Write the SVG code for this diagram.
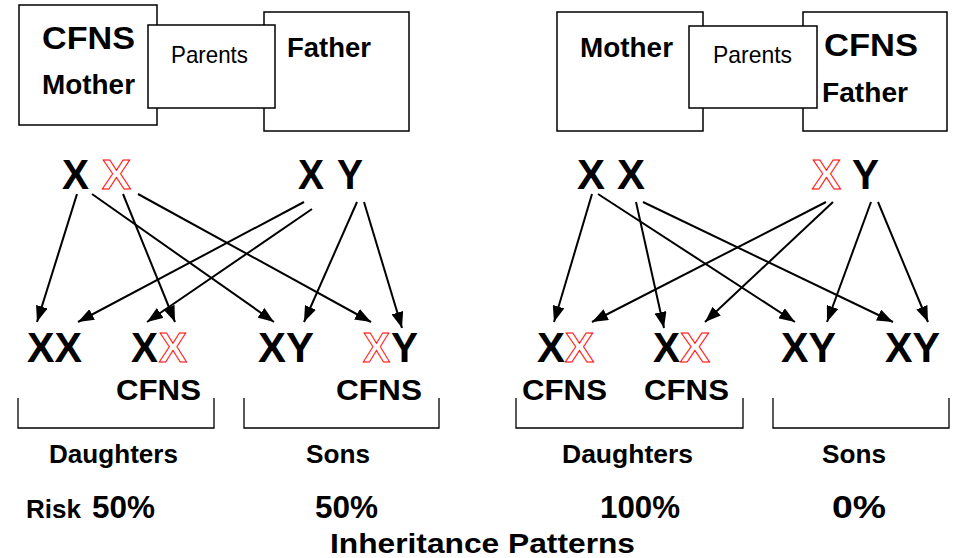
<svg xmlns="http://www.w3.org/2000/svg" width="955" height="558" viewBox="0 0 955 558">
<style>
.box{fill:#fff;stroke:#000;stroke-width:1.5}
.b{font-family:"Liberation Sans",Arial,sans-serif;font-weight:bold;fill:#000}
.r{font-family:"Liberation Sans",Arial,sans-serif;fill:#000}
.chr{font-family:"Liberation Sans",Arial,sans-serif;font-weight:bold;font-size:43px;fill:#000}
.mut{fill:#fff;stroke:#ff0000;stroke-width:1}
.arr{stroke:#000;stroke-width:2;fill:none;marker-end:url(#ah)}
.brk{fill:none;stroke:#000;stroke-width:1.3}
</style>
<defs>
<marker id="ah" viewBox="0 0 16 12" refX="16" refY="6" markerWidth="16" markerHeight="12" markerUnits="userSpaceOnUse" orient="auto">
<path d="M0,0 L16,6 L0,12 Z" fill="#000"/>
</marker>
</defs>

<!-- Left parents -->
<g id="mother-left">
<rect class="box" x="19" y="5" width="138" height="120"/>
<text class="b" x="42" y="49" font-size="31" textLength="93" lengthAdjust="spacingAndGlyphs">CFNS</text>
<text class="b" x="42" y="94" font-size="28" textLength="93" lengthAdjust="spacingAndGlyphs">Mother</text>
</g>
<g id="father-left">
<rect class="box" x="264" y="12" width="145" height="119"/>
<text class="b" x="287" y="57" font-size="28" textLength="84" lengthAdjust="spacingAndGlyphs">Father</text>
</g>
<g id="parents-left">
<rect class="box" x="148" y="25" width="127" height="83"/>
<text class="r" x="171" y="63" font-size="24" textLength="77" lengthAdjust="spacingAndGlyphs">Parents</text>
</g>

<!-- Right parents -->
<g id="mother-right">
<rect class="box" x="557" y="12" width="146" height="119"/>
<text class="b" x="580" y="57" font-size="28" textLength="93" lengthAdjust="spacingAndGlyphs">Mother</text>
</g>
<g id="father-right">
<rect class="box" x="803" y="12" width="144" height="119"/>
<text class="b" x="824" y="56" font-size="31" textLength="94" lengthAdjust="spacingAndGlyphs">CFNS</text>
<text class="b" x="822" y="102" font-size="28" textLength="86" lengthAdjust="spacingAndGlyphs">Father</text>
</g>
<g id="parents-right">
<rect class="box" x="689" y="26" width="128" height="82"/>
<text class="r" x="713" y="63" font-size="24" textLength="79" lengthAdjust="spacingAndGlyphs">Parents</text>
</g>

<!-- Parent genotypes -->
<g id="geno-mother-left">
<text class="chr" x="62" y="189" textLength="27" lengthAdjust="spacingAndGlyphs">X</text>
<text class="chr mut" x="102" y="189" textLength="29" lengthAdjust="spacingAndGlyphs">X</text>
</g>
<g id="geno-father-left">
<text class="chr" x="298" y="189" textLength="26" lengthAdjust="spacingAndGlyphs">X</text>
<text class="chr" x="337" y="189" textLength="26" lengthAdjust="spacingAndGlyphs">Y</text>
</g>
<g id="geno-mother-right">
<text class="chr" x="577" y="189" textLength="28" lengthAdjust="spacingAndGlyphs">X</text>
<text class="chr" x="617" y="189" textLength="28" lengthAdjust="spacingAndGlyphs">X</text>
</g>
<g id="geno-father-right">
<text class="chr mut" x="812" y="189" textLength="29" lengthAdjust="spacingAndGlyphs">X</text>
<text class="chr" x="852" y="189" textLength="27" lengthAdjust="spacingAndGlyphs">Y</text>
</g>

<!-- Children left -->
<g id="child-left-1">
<text class="chr" x="27" y="362" textLength="55" lengthAdjust="spacingAndGlyphs">XX</text>
</g>
<g id="child-left-2">
<text class="chr" x="131" y="362" textLength="27" lengthAdjust="spacingAndGlyphs">X</text>
<text class="chr mut" x="159" y="362" textLength="28" lengthAdjust="spacingAndGlyphs">X</text>
<text class="b" x="116" y="400" font-size="29" textLength="85" lengthAdjust="spacingAndGlyphs">CFNS</text>
</g>
<g id="child-left-3">
<text class="chr" x="258" y="362" textLength="56" lengthAdjust="spacingAndGlyphs">XY</text>
</g>
<g id="child-left-4">
<text class="chr mut" x="363" y="362" textLength="27" lengthAdjust="spacingAndGlyphs">X</text>
<text class="chr" x="391" y="362" textLength="27" lengthAdjust="spacingAndGlyphs">Y</text>
<text class="b" x="336" y="400" font-size="29" textLength="86" lengthAdjust="spacingAndGlyphs">CFNS</text>
</g>

<!-- Children right -->
<g id="child-right-1">
<text class="chr" x="537" y="362" textLength="28" lengthAdjust="spacingAndGlyphs">X</text>
<text class="chr mut" x="565" y="362" textLength="29" lengthAdjust="spacingAndGlyphs">X</text>
<text class="b" x="522" y="400" font-size="29" textLength="85" lengthAdjust="spacingAndGlyphs">CFNS</text>
</g>
<g id="child-right-2">
<text class="chr" x="653" y="362" textLength="27" lengthAdjust="spacingAndGlyphs">X</text>
<text class="chr mut" x="680" y="362" textLength="30" lengthAdjust="spacingAndGlyphs">X</text>
<text class="b" x="644" y="400" font-size="29" textLength="85" lengthAdjust="spacingAndGlyphs">CFNS</text>
</g>
<g id="child-right-3">
<text class="chr" x="781" y="362" textLength="55" lengthAdjust="spacingAndGlyphs">XY</text>
</g>
<g id="child-right-4">
<text class="chr" x="885" y="362" textLength="55" lengthAdjust="spacingAndGlyphs">XY</text>
</g>

<!-- Connectors -->
<g id="connectors">
<line class="arr" x1="77" y1="194" x2="37" y2="322"/>
<line class="arr" x1="92" y1="194" x2="274" y2="322"/>
<line class="arr" x1="123" y1="194" x2="175" y2="322"/>
<line class="arr" x1="138" y1="194" x2="371" y2="322"/>
<line class="arr" x1="304" y1="202" x2="78" y2="322"/>
<line class="arr" x1="312" y1="209" x2="147" y2="322"/>
<line class="arr" x1="357" y1="202" x2="304" y2="322"/>
<line class="arr" x1="364" y1="202" x2="402" y2="328"/>

<line class="arr" x1="592" y1="194" x2="554" y2="322"/>
<line class="arr" x1="598" y1="194" x2="795" y2="322"/>
<line class="arr" x1="636" y1="202" x2="664" y2="328"/>
<line class="arr" x1="643" y1="202" x2="893" y2="322"/>
<line class="arr" x1="826" y1="202" x2="592" y2="322"/>
<line class="arr" x1="833" y1="202" x2="705" y2="322"/>
<line class="arr" x1="871" y1="202" x2="827" y2="322"/>
<line class="arr" x1="878" y1="202" x2="928" y2="322"/>
</g>

<!-- Brackets and labels -->
<g id="group-daughters-left">
<polyline class="brk" points="18,398 18,428 214,428 214,398"/>
<text class="b" x="49" y="463" font-size="25" textLength="129" lengthAdjust="spacingAndGlyphs">Daughters</text>
<text class="b" x="26" y="518" font-size="25" textLength="55" lengthAdjust="spacingAndGlyphs">Risk</text>
<text class="b" x="92" y="518" font-size="31" textLength="63" lengthAdjust="spacingAndGlyphs">50%</text>
</g>
<g id="group-sons-left">
<polyline class="brk" points="244,398 244,428 439,428 439,398"/>
<text class="b" x="306" y="463" font-size="25" textLength="64" lengthAdjust="spacingAndGlyphs">Sons</text>
<text class="b" x="315" y="518" font-size="31" textLength="63" lengthAdjust="spacingAndGlyphs">50%</text>
</g>
<g id="group-daughters-right">
<polyline class="brk" points="516,398 516,428 743,428 743,398"/>
<text class="b" x="562" y="463" font-size="25" textLength="131" lengthAdjust="spacingAndGlyphs">Daughters</text>
<text class="b" x="600" y="518" font-size="31" textLength="80" lengthAdjust="spacingAndGlyphs">100%</text>
</g>
<g id="group-sons-right">
<polyline class="brk" points="773,398 773,428 949,428 949,398"/>
<text class="b" x="822" y="463" font-size="25" textLength="64" lengthAdjust="spacingAndGlyphs">Sons</text>
<text class="b" x="832" y="518" font-size="31" textLength="54" lengthAdjust="spacingAndGlyphs">0%</text>
</g>
<g id="title">
<text class="b" x="330" y="553" font-size="28" textLength="305" lengthAdjust="spacingAndGlyphs">Inheritance Patterns</text>
</g>
</svg>
